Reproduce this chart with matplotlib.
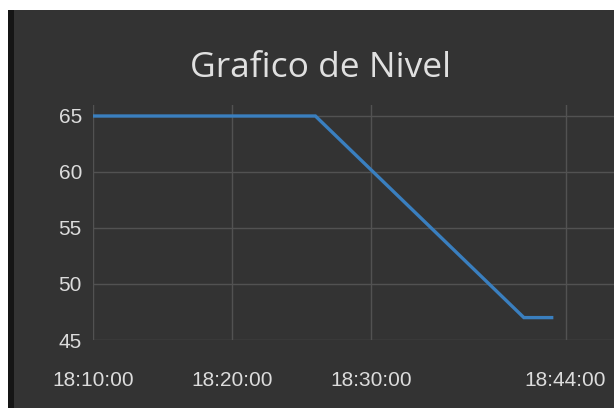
import matplotlib
matplotlib.use('Agg')
import matplotlib.pyplot as plt
import matplotlib.dates as mdates
from matplotlib.patches import Rectangle
import pandas as pd

# data
times = ['18:10:00', '18:26:00', '18:41:00', '18:43:00']
nivel = [65, 65, 47, 47]
xticks = ['18:10:00', '18:20:00', '18:30:00', '18:44:00']
yticks = [45, 50, 55, 60, 65]

day = '2024-01-01 '
t = pd.to_datetime([day + s for s in times])
tt = pd.to_datetime([day + s for s in xticks])

fig = plt.figure(figsize=(6.14, 4.08), dpi=100)
fig.patch.set_facecolor('white')
# dark panel behind the chart
fig.patches.append(Rectangle((8/614, 0), 1 - 8/614, 398/408, transform=fig.transFigure,
                             facecolor='#333333', edgecolor='none', zorder=-5))
fig.patches.append(Rectangle((8/614, 0), 6/614, 398/408, transform=fig.transFigure,
                             facecolor='#151515', edgecolor='none', zorder=-4))

ax = fig.add_axes([93/614, 1 - 340/408, 1 - 93/614, (340 - 104.8)/408])
ax.set_facecolor('none')
ax.plot(t, nivel, color='#3a7fbf', linewidth=2.4, solid_joinstyle='miter')

ax.set_xlim(pd.Timestamp(day + '18:10:00'), pd.Timestamp(day + '18:47:29'))
ax.set_ylim(45, 66)
ax.set_xticks(tt)
ax.xaxis.set_major_formatter(mdates.DateFormatter('%H:%M:%S'))
ax.set_yticks(yticks)

ax.grid(True, color='#525252', linewidth=1)
for s in ax.spines.values():
    s.set_visible(False)
ax.tick_params(axis='both', length=0, labelcolor='#dcdcdc', labelsize=15)
ax.tick_params(axis='x', pad=22)
ax.tick_params(axis='y', pad=8)
for lab in ax.get_xticklabels() + ax.get_yticklabels():
    lab.set_fontfamily('Liberation Sans')

fig.text(320/614, 1 - 68/408, 'Grafico de Nivel', ha='center', va='center',
         fontsize=25.5, color='#e0e0e0', fontfamily='Open Sans')

fig.savefig('out.png', dpi=100, facecolor=fig.get_facecolor())
